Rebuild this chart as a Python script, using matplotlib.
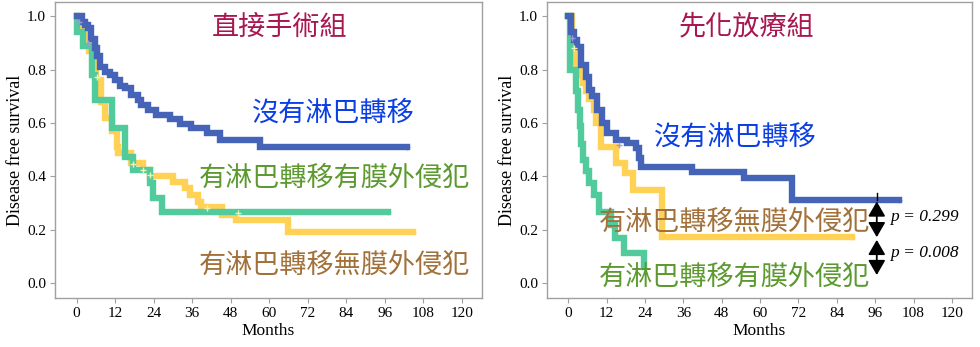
import matplotlib
matplotlib.use("Agg")
import matplotlib.pyplot as plt

# ---- data (months, survival) ----
# left panel: 直接手術組
surg_no_t = [0, 1.6, 2.6, 3.6, 4.4, 5.7, 6.4, 7.3, 8.8, 10.4, 11.9, 13.5, 15.1, 17.1,
             19.2, 20.2, 22.3, 24.9, 29.1, 32.2, 35.8, 40.5, 44.6, 57.0]
surg_no_s = [1.0, 0.98, 0.967, 0.955, 0.917, 0.88, 0.85, 0.81, 0.79, 0.78, 0.76, 0.74, 0.73, 0.705,
             0.686, 0.667, 0.649, 0.63, 0.617, 0.596, 0.58, 0.561, 0.536, 0.511]
surg_no_end = 103.0

surg_ext_t = [0, 0.3, 2.1, 4.7, 5.7, 10.9, 15.0, 17.6, 22.8, 23.9, 26.5]
surg_ext_s = [1.0, 0.94, 0.89, 0.78, 0.686, 0.58, 0.474, 0.424, 0.375, 0.319, 0.267]
surg_ext_end = 97.0

surg_noext_t = [0, 1.0, 4.0, 6.0, 7.5, 9.0, 11.0, 12.5, 13.0, 17.1, 20.7, 22.8, 30.1, 33.7,
                35.3, 37.9, 38.9, 45.2, 49.8, 65.9]
surg_noext_s = [1.0, 0.95, 0.87, 0.76, 0.68, 0.62, 0.57, 0.51, 0.486, 0.449, 0.424, 0.40, 0.38, 0.355,
                0.33, 0.305, 0.286, 0.255, 0.236, 0.19]
surg_noext_end = 104.8

# censor marks (left)
surg_cens_blue_t = [0.8, 3.6]
surg_cens_blue_s = [0.98, 0.9]
surg_cens_yel_t = [6.4, 17.6, 20.7, 22.8, 40.6, 50.2]
surg_cens_yel_s = [0.774, 0.446, 0.424, 0.405, 0.28, 0.261]

# right panel: 先化放療組
neo_no_t = [0, 0.7, 1.8, 2.8, 3.8, 5.4, 6.4, 7.5, 9.1, 10.6, 12.2, 14.8, 18.4, 21.0,
            22.0, 22.6, 38.7, 54.9, 70.0]
neo_no_s = [1.0, 0.94, 0.91, 0.886, 0.817, 0.774, 0.724, 0.70, 0.65, 0.60, 0.561, 0.536, 0.524, 0.505,
            0.47, 0.436, 0.418, 0.395, 0.311]
neo_no_end = 103.3

neo_noext_t = [0, 1.0, 2.5, 3.5, 4.5, 5.5, 6.5, 7.9, 8.7, 10.3, 14.8, 17.8, 20.3, 29.4]
neo_noext_s = [1.0, 0.885, 0.80, 0.78, 0.75, 0.72, 0.69, 0.65, 0.60, 0.511, 0.449, 0.411, 0.349, 0.174]
neo_noext_end = 88.8

neo_ext_t = [0, 0.5, 2.5, 3.0, 3.5, 4.0, 4.5, 5.5, 6.5, 8.0, 9.5, 13.2, 14.5, 17.3, 23.6]
neo_ext_s = [1.0, 0.80, 0.72, 0.65, 0.59, 0.52, 0.46, 0.42, 0.375, 0.33, 0.267, 0.217, 0.168, 0.111, 0.06]

neo_cens_blue_t = [1.2, 15.8]
neo_cens_blue_s = [0.918, 0.517]
neo_cens_yel_t = [1.8]
neo_cens_yel_s = [0.88]

p_values = ["p = 0.299", "p = 0.008"]
xticks = list(range(0, 121, 12))
yticks = [0.0, 0.2, 0.4, 0.6, 0.8, 1.0]

BLUE = "#4664B7"
YELLOW = "#FFD155"
GREEN = "#52CB9C"
CJK = ["Noto Sans CJK TC", "DejaVu Sans"]
SERIF = "Liberation Serif"


def km(ax, t, s, end, color):
    tt = t + ([end] if end is not None else [])
    ss = s + ([s[-1]] if end is not None else [])
    ax.step(tt, ss, where="post", color=color, lw=4.6, solid_joinstyle="miter")
    if end is not None:
        ax.plot([end], [s[-1]], marker="+", color=color, ms=5, mew=1, alpha=0.6)


def style(ax):
    ax.set_xlim(-6.7, 126.3)
    ax.set_ylim(-0.056, 1.054)
    ax.set_xticks(xticks)
    ax.set_yticks(yticks)
    ax.set_yticklabels([f"{v:.1f}" for v in yticks])
    for sp in ax.spines.values():
        sp.set_color("#a0a0a0")
        sp.set_linewidth(1.0)
    ax.tick_params(colors="#a0a0a0", length=3.5, width=0.8, labelcolor="black", labelsize=11, pad=3)
    for lab in ax.get_xticklabels() + ax.get_yticklabels():
        lab.set_fontfamily(SERIF)
    ax.set_xlabel("Months", fontfamily=SERIF, fontsize=12.5, labelpad=2)
    ax.set_ylabel("Disease free survival", fontfamily=SERIF, fontsize=13)
    ax.yaxis.set_label_coords(-0.072, 0.5)


fig = plt.figure(figsize=(9.8, 3.47), dpi=100)
ax1 = fig.add_axes([55 / 980, 1 - 298 / 347, 427 / 980, 296 / 347])
ax2 = fig.add_axes([547 / 980, 1 - 298 / 347, 425 / 980, 296 / 347])

# left
km(ax1, surg_noext_t, surg_noext_s, surg_noext_end, YELLOW)
km(ax1, surg_ext_t, surg_ext_s, surg_ext_end, GREEN)
km(ax1, surg_no_t, surg_no_s, surg_no_end, BLUE)
ax1.plot(surg_cens_blue_t, surg_cens_blue_s, "+", color="#9a9ad8", ms=5, mew=1)
ax1.plot(surg_cens_yel_t, surg_cens_yel_s, "+", color="#f4f0b0", ms=5, mew=1)
style(ax1)

ax1.text(63.4, 0.96, "直接手術組", color="#A8174F", fontsize=19.5, family=CJK, ha="center", va="center")
ax1.text(79.9, 0.637, "沒有淋巴轉移", color="#0B3FE3", fontsize=19.5, family=CJK, ha="center", va="center")
ax1.text(80.2, 0.394, "有淋巴轉移有膜外侵犯", color="#5C9A2F", fontsize=19.5, family=CJK, ha="center", va="center")
ax1.text(80.2, 0.0675, "有淋巴轉移無膜外侵犯", color="#A2713A", fontsize=19.5, family=CJK, ha="center", va="center")

# right
km(ax2, neo_noext_t, neo_noext_s, neo_noext_end, YELLOW)
km(ax2, neo_ext_t, neo_ext_s, None, GREEN)
km(ax2, neo_no_t, neo_no_s, neo_no_end, BLUE)
ax2.plot(neo_cens_blue_t, neo_cens_blue_s, "+", color="#9a9ad8", ms=5, mew=1)
ax2.plot(neo_cens_yel_t, neo_cens_yel_s, "+", color="#f4f0b0", ms=5, mew=1)
style(ax2)

ax2.text(55.7, 0.96, "先化放療組", color="#A8174F", fontsize=19.5, family=CJK, ha="center", va="center")
ax2.text(52.3, 0.547, "沒有淋巴轉移", color="#0B3FE3", fontsize=19.5, family=CJK, ha="center", va="center")
ax2.text(52.0, 0.229, "有淋巴轉移無膜外侵犯", color="#A2713A", fontsize=19.5, family=CJK, ha="center", va="center")
ax2.text(52.0, 0.0225, "有淋巴轉移有膜外侵犯", color="#5C9A2F", fontsize=19.5, family=CJK, ha="center", va="center")

arrow = dict(arrowstyle="<|-|>,head_length=0.45,head_width=0.26", color="black",
             lw=1.3, mutation_scale=20, shrinkA=0, shrinkB=0)
x_arr = 96.5
ax2.plot([x_arr, x_arr], [neo_no_s[-1], neo_no_s[-1] + 0.025], color="black", lw=1.0)
ax2.annotate("", xy=(x_arr, 0.172), xytext=(x_arr, 0.306), arrowprops=arrow)
ax2.annotate("", xy=(x_arr, 0.03), xytext=(x_arr, 0.162), arrowprops=arrow)
ax2.text(100.7, 0.249, p_values[0], fontfamily=SERIF, style="italic", fontsize=12.5, va="center")
ax2.text(100.7, 0.111, p_values[1], fontfamily=SERIF, style="italic", fontsize=12.5, va="center")

fig.savefig("out.png", dpi=100)
